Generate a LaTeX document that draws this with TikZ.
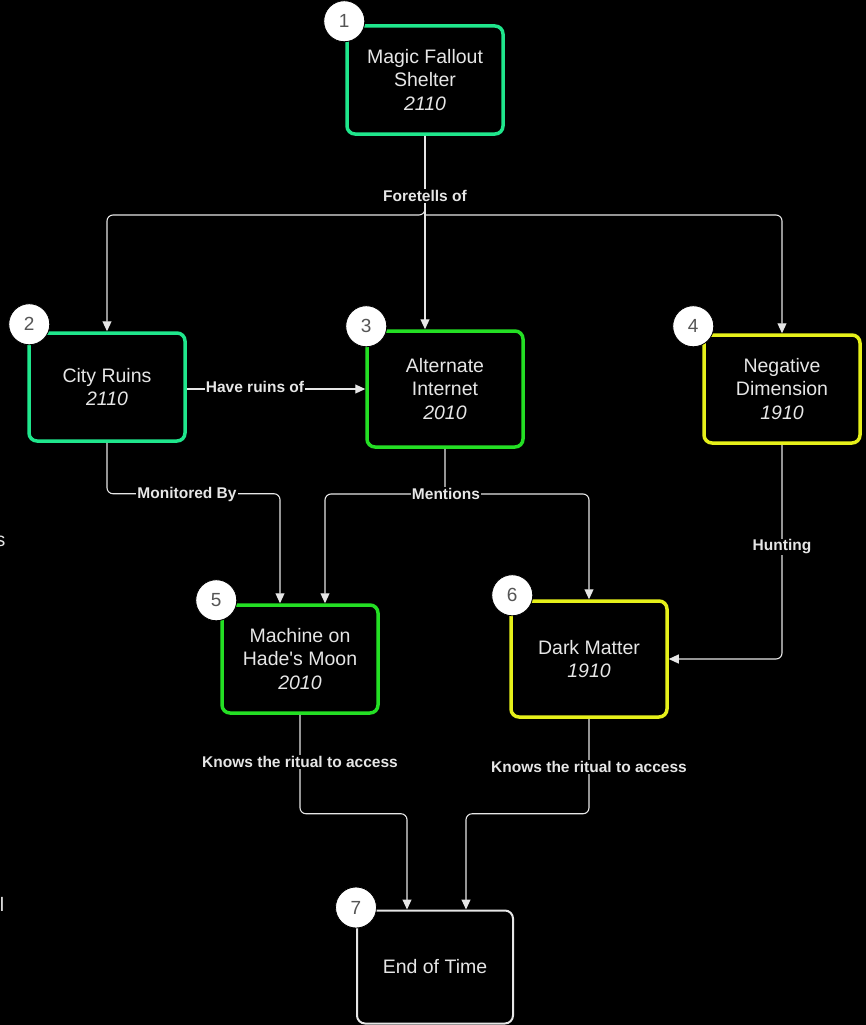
\documentclass[tikz,border=0pt]{standalone}
\usepackage{fontspec}
\setmainfont{Liberation Sans}
\usetikzlibrary{arrows.meta}

\definecolor{mintgreen}{HTML}{1FE68C}
\definecolor{limegreen}{HTML}{24DF24}
\definecolor{brightyellow}{HTML}{E6F01A}
\definecolor{softwhite}{HTML}{E6E6E6}
\definecolor{badgegrey}{HTML}{555555}

\begin{document}
\begin{tikzpicture}[x=1pt, y=-1pt,
    box/.style={draw, line width=3.5pt, rounded corners=8pt, fill=black, text=softwhite,
        minimum width=156pt, minimum height=108pt, align=center, inner sep=0pt,
        font=\fontsize{19.5}{23.5}\selectfont},
    badge/.style={circle, draw=black, line width=0.8pt, fill=white, text=badgegrey,
        minimum size=41pt, inner sep=0pt, font=\fontsize{19}{19}\selectfont},
    link/.style={draw=softwhite, line width=1.1pt, rounded corners=6pt,
        -{Triangle[length=10pt, width=9pt]}},
    lbl/.style={fill=black, text=softwhite, inner sep=1pt,
        font=\fontsize{15.5}{18}\selectfont\bfseries}]
    \fill[black] (0,0) rectangle (866,1025);
    \useasboundingbox (0,0) rectangle (866,1025);

    % edges of text that is cut off on the left
    \node[anchor=east, inner sep=0pt, text=softwhite, font=\fontsize{19.5}{23.5}\selectfont] (cutS) at (5.5,541) {s};
    \node[anchor=east, inner sep=0pt, text=softwhite, font=\fontsize{19.5}{23.5}\selectfont] (cutL) at (4.5,904) {l};

    \node[box, draw=mintgreen] (shelter) at (425,80) {Magic Fallout\\Shelter\\\textit{2110}};
    \node[box, draw=mintgreen] (ruins) at (107,387) {City Ruins\\\textit{2110}};
    \node[box, draw=limegreen, minimum height=116pt] (internet) at (445,389) {Alternate\\Internet\\\textit{2010}};
    \node[box, draw=brightyellow] (negdim) at (782,389) {Negative\\Dimension\\\textit{1910}};
    \node[box, draw=limegreen] (machine) at (300,659) {Machine on\\Hade\textquotesingle s Moon\\\textit{2010}};
    \node[box, draw=brightyellow, minimum height=116pt] (darkmatter) at (589,659) {Dark Matter\\\textit{1910}};
    \node[box, draw=softwhite, line width=2pt, minimum height=113pt] (endtime) at (435,967) {End of Time};

    \coordinate (fork) at (425,215);
    \draw[link] (shelter.south) -- (fork) -| (ruins.north);
    \draw[link] (fork) -| (negdim.north);
    \draw[link] (shelter.south) -- (shelter.south |- internet.north);
    \draw[link] (ruins.east |- internet.west) -- (internet.west);
    \draw[link] (ruins.south) -- ++(0,51) -| ([xshift=-20pt]machine.north);
    \coordinate (split) at (445,494);
    \draw[link] (internet.south) -- (split) -| ([xshift=25pt]machine.north);
    \draw[link] (split) -| (darkmatter.north);
    \draw[link] (negdim.south) |- (darkmatter.east);
    \draw[link] (machine.south) -- ++(0,99) -| ([xshift=-28pt]endtime.north);
    \draw[link] (darkmatter.south) -- ++(0,95) -| ([xshift=31pt]endtime.north);

    \node[lbl] (foretells) at (425,196) {Foretells of};
    \node[lbl] (haveruins) at (255,387) {Have ruins of};
    \node[lbl] (monitored) at (187,494) {Monitored By};
    \node[lbl] (mentions) at (446,494) {Mentions};
    \node[lbl] (hunting) at (782,547) {Hunting};
    \node[lbl] (ritualA) at (300,762) {Knows the ritual to access};
    \node[lbl] (ritualB) at (589,767) {Knows the ritual to access};

    \node[badge] (b1) at ([shift={(-1,-3)}]shelter.north west) {1};
    \node[badge] (b2) at ([shift={(2,-7)}]ruins.north west) {2};
    \node[badge] (b3) at ([shift={(1,-3)}]internet.north west) {3};
    \node[badge] (b4) at ([shift={(-9,-7)}]negdim.north west) {4};
    \node[badge] (b5) at ([shift={(-4,-3)}]machine.north west) {5};
    \node[badge] (b6) at ([shift={(3,-4)}]darkmatter.north west) {6};
    \node[badge] (b7) at ([shift={(0,-2)}]endtime.north west) {7};
\end{tikzpicture}
\end{document}
